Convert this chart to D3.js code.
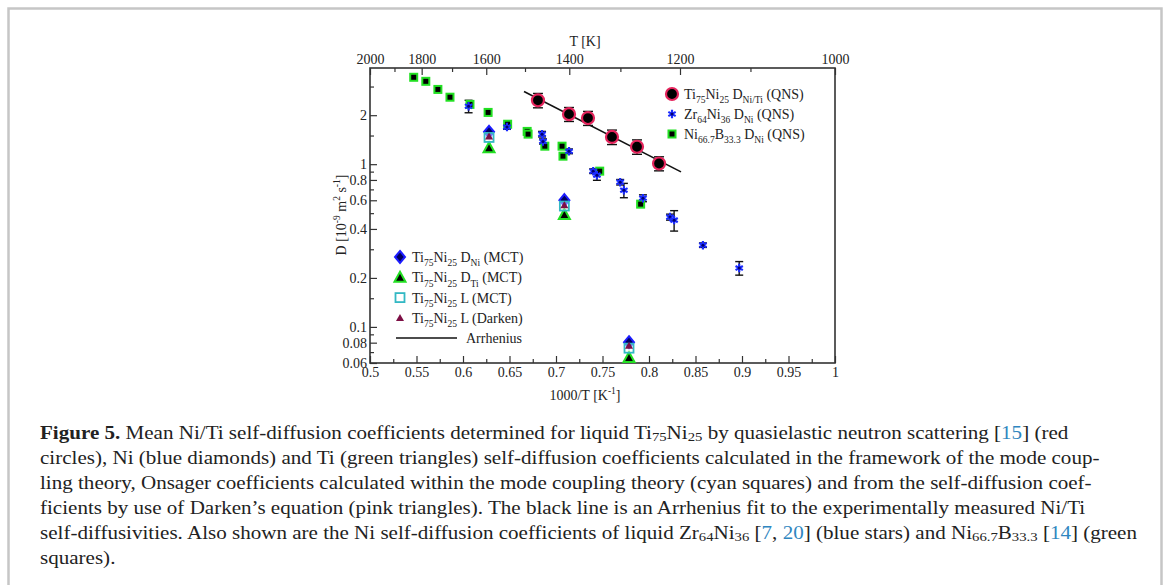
<!DOCTYPE html>
<html>
<head>
<meta charset="utf-8">
<script src="https://cdn.jsdelivr.net/npm/d3@7"></script>
<style>
  body { margin: 0; background: #fff; }
  text { font-family: "Liberation Serif", "Times New Roman", serif; fill: #222; }
</style>
</head>
<body>
<div id="roott"></div>
<script>
// ---- data ----
// Ni66.7B33.3 D_Ni (QNS), green squares
let nibX = [0.547, 0.560, 0.573, 0.586, 0.6075, 0.627, 0.648, 0.669, 0.670, 0.688, 0.7065, 0.7075, 0.747, 0.791];
let nibD = [3.42, 3.23, 2.88, 2.58, 2.33, 2.08, 1.76, 1.59, 1.53, 1.29, 1.29, 1.12, 0.906, 0.568];
let nibErr = [0.06, 0.05, 0.05, 0.04, 0.04, 0.03, 0.04, 0.03, 0.03, 0.03, 0.03, 0.03, 0.02, 0.02];

// Zr64Ni36 D_Ni (QNS), blue stars
let zrX = [0.606, 0.6473, 0.685, 0.686, 0.714, 0.740, 0.744, 0.769, 0.773, 0.7935, 0.8226, 0.827, 0.858, 0.897];
let zrD = [2.27, 1.69, 1.53, 1.38, 1.20, 0.906, 0.856, 0.775, 0.692, 0.618, 0.473, 0.453, 0.318, 0.230];
let zrErr = [0.2, 0.05, 0.06, 0.05, 0.04, 0.03, 0.06, 0.03, 0.07, 0.03, 0.02, 0.065, 0.01, 0.022];

// Ti75Ni25 D_Ni/Ti (QNS), red circles
let tiX = [0.6806, 0.714, 0.7344, 0.7602, 0.7871, 0.8108];
let tiD = [2.47, 2.03, 1.92, 1.47, 1.28, 1.01];
let tiErr = [0.25, 0.2, 0.19, 0.15, 0.13, 0.1];

// MCT results
let mctX = [0.628, 0.709, 0.7785];
let mctNi = [1.58, 0.601, 0.0805];
let mctTi = [1.26, 0.491, 0.0648];
let mctL = [1.46, 0.553, 0.074];
let darkenL = [1.48, 0.56, 0.0765];

// Arrhenius fit end points
let arrX = [0.6656, 0.8344];
let arrD = [2.80, 0.897];

// ticks
let xTicks = [0.5, 0.55, 0.6, 0.65, 0.7, 0.75, 0.8, 0.85, 0.9, 0.95, 1];
let xMinor = [0.525, 0.575, 0.625, 0.675, 0.725, 0.775, 0.825, 0.875, 0.925, 0.975];
let yTicks = [0.06, 0.08, 0.1, 0.2, 0.4, 0.6, 0.8, 1, 2];
let yMinor = [0.07, 0.09, 0.15, 0.3, 0.5, 0.7, 0.9, 1.5, 3];
let tTicks = [2000, 1800, 1600, 1400, 1200, 1000];
let tMinor = [1900, 1700, 1500, 1300, 1100];

// DIMENSIONS
let W = 1168, H = 585;
let pLeft = 370, pRight = 835, pTop = 68, pBottom = 363;

let svg = d3.select('#roott').append('svg')
  .attr('width', W).attr('height', H);

// outer frame
svg.append('rect')
  .attr('x', 8.5).attr('y', 8.5).attr('width', 1153).attr('height', 620)
  .attr('fill', 'none').attr('stroke', '#c6c6c6').attr('stroke-width', 2.5);

let xScale = d3.scaleLinear().domain([0.5, 1]).range([pLeft, pRight]);
let yScale = d3.scaleLog().domain([0.06, 3.9]).range([pBottom, pTop]);

// rich text helper: parts = [[text, mode]], mode '', 'sub', 'sup'
function rich(sel, parts, fs) {
  let off = 0;
  parts.forEach(([t, m]) => {
    let ts = sel.append('tspan').text(t);
    let d = 0;
    if (m === 'sub') { d = fs * 0.3; ts.attr('font-size', fs * 0.68); }
    if (m === 'sup') { d = -fs * 0.4; ts.attr('font-size', fs * 0.68); }
    if (d - off !== 0) ts.attr('dy', d - off);
    off = d;
  });
}

// axes
let axisCol = '#333';
let fmt = (v) => String(+v.toFixed(3));

svg.append('g').attr('transform', `translate(0,${pBottom})`)
  .call(d3.axisBottom(xScale).tickValues(xTicks).tickFormat(fmt).tickSizeInner(-7).tickSizeOuter(0).tickPadding(4));
svg.append('g').attr('transform', `translate(0,${pBottom})`)
  .call(d3.axisBottom(xScale).tickValues(xMinor).tickFormat('').tickSizeInner(-4).tickSizeOuter(0));

svg.append('g').attr('transform', `translate(${pLeft},0)`)
  .call(d3.axisLeft(yScale).tickValues(yTicks).tickFormat(fmt).tickSizeInner(-7).tickSizeOuter(0).tickPadding(3));
svg.append('g').attr('transform', `translate(${pLeft},0)`)
  .call(d3.axisLeft(yScale).tickValues(yMinor).tickFormat('').tickSizeInner(-4).tickSizeOuter(0));

svg.append('g').attr('transform', `translate(0,${pTop})`)
  .call(d3.axisTop(xScale)
    .tickValues(tTicks.map((T) => 1000 / T))
    .tickFormat((v) => String(Math.round(1000 / v)))
    .tickSizeInner(-7).tickSizeOuter(0).tickPadding(4));
svg.append('g').attr('transform', `translate(0,${pTop})`)
  .call(d3.axisTop(xScale).tickValues(tMinor.map((T) => 1000 / T)).tickFormat('').tickSizeInner(-4).tickSizeOuter(0));

svg.selectAll('.domain').remove();
svg.selectAll('.tick line').attr('stroke', axisCol).attr('stroke-width', 1.2);
svg.selectAll('.tick text')
  .style('font-family', '"Liberation Serif", serif').style('font-size', '14px').style('fill', '#222');

// plot box
svg.append('rect')
  .attr('x', pLeft).attr('y', pTop).attr('width', pRight - pLeft).attr('height', pBottom - pTop)
  .attr('fill', 'none').attr('stroke', axisCol).attr('stroke-width', 1.6);

// axis titles
svg.append('text').attr('x', 585).attr('y', 46).attr('text-anchor', 'middle')
  .style('font-size', '14px').text('T [K]');

let xl = svg.append('text').attr('x', 585).attr('y', 400).attr('text-anchor', 'middle').style('font-size', '14px');
rich(xl, [['1000/T [K'], ['-1', 'sup'], [']']], 14);

let yl = svg.append('text').attr('transform', 'translate(346,215) rotate(-90)')
  .attr('text-anchor', 'middle').style('font-size', '14px');
rich(yl, [['D [10'], ['-9', 'sup'], [' m'], ['2', 'sup'], [' s'], ['-1', 'sup'], [']']], 14);

// clip to plot area
svg.append('clipPath').attr('id', 'clip').append('rect')
  .attr('x', pLeft).attr('y', pTop - 10).attr('width', pRight - pLeft).attr('height', pBottom - pTop + 20);
let plot = svg.append('g').attr('clip-path', 'url(#clip)');

// Arrhenius line
let line = d3.line().x((d) => xScale(d[0])).y((d) => yScale(d[1]));
plot.append('path')
  .datum(arrX.map((x, i) => [x, arrD[i]]))
  .attr('fill', 'none').attr('stroke', '#111').attr('stroke-width', 1.6)
  .attr('d', line);

// error bars
function errBars(xs, ds, es, cap) {
  let g = plot.append('g').attr('stroke', '#111').attr('stroke-width', 1.4);
  xs.forEach((x, i) => {
    let cx = xScale(x), y1 = yScale(ds[i] - es[i]), y2 = yScale(ds[i] + es[i]);
    g.append('line').attr('x1', cx).attr('x2', cx).attr('y1', y1).attr('y2', y2);
    g.append('line').attr('x1', cx - cap).attr('x2', cx + cap).attr('y1', y1).attr('y2', y1);
    g.append('line').attr('x1', cx - cap).attr('x2', cx + cap).attr('y1', y2).attr('y2', y2);
  });
}

let green = '#22e022', blue = '#1a2bff', red = '#e5245c', cyan = '#33b8c4', maroon = '#7d0f45';

// marker drawers
function greenSquare(g, x, y) {
  g.append('rect').attr('x', x - 3.5).attr('y', y - 3.5).attr('width', 7).attr('height', 7)
    .attr('fill', '#000').attr('stroke', green).attr('stroke-width', 2);
}
function blueStar(g, x, y) {
  g.append('path').attr('d', d3.symbol(d3.symbolAsterisk, 50)())
    .attr('transform', `translate(${x},${y})`)
    .attr('stroke', blue).attr('stroke-width', 2.2).attr('fill', 'none');
  g.append('circle').attr('cx', x).attr('cy', y).attr('r', 1.5).attr('fill', '#000070');
}
function redCircle(g, x, y) {
  g.append('circle').attr('cx', x).attr('cy', y).attr('r', 6)
    .attr('fill', '#000').attr('stroke', red).attr('stroke-width', 2.2);
}
function diamond(g, x, y) {
  g.append('path').attr('d', `M${x},${y - 6}L${x + 5},${y}L${x},${y + 6}L${x - 5},${y}Z`)
    .attr('fill', '#000060').attr('stroke', '#1c1cff').attr('stroke-width', 2);
}
function greenTri(g, x, y) {
  g.append('path').attr('d', `M${x},${y - 5.5}L${x + 5.5},${y + 4.5}L${x - 5.5},${y + 4.5}Z`)
    .attr('fill', '#000').attr('stroke', green).attr('stroke-width', 2);
}
function cyanSquare(g, x, y) {
  g.append('rect').attr('x', x - 4.5).attr('y', y - 4.5).attr('width', 9).attr('height', 9)
    .attr('fill', '#fff').attr('fill-opacity', 0.4).attr('stroke', cyan).attr('stroke-width', 1.8);
}
function darkenTri(g, x, y) {
  g.append('path').attr('d', `M${x},${y - 4}L${x + 4},${y + 3}L${x - 4},${y + 3}Z`)
    .attr('fill', maroon);
}

errBars(nibX, nibD, nibErr, 3);
errBars(zrX, zrD, zrErr, 4);
errBars(tiX, tiD, tiErr, 5);

let mk = plot.append('g');
nibX.forEach((x, i) => greenSquare(mk, xScale(x), yScale(nibD[i])));
zrX.forEach((x, i) => blueStar(mk, xScale(x), yScale(zrD[i])));
tiX.forEach((x, i) => redCircle(mk, xScale(x), yScale(tiD[i])));
mctX.forEach((x, i) => {
  greenTri(mk, xScale(x), yScale(mctTi[i]));
  diamond(mk, xScale(x), yScale(mctNi[i]));
  cyanSquare(mk, xScale(x), yScale(mctL[i]));
  darkenTri(mk, xScale(x), yScale(darkenL[i]));
});

// legends
let lg = svg.append('g');
let fsL = 14;
let upper = [
  [redCircle, [['Ti'], ['75', 'sub'], ['Ni'], ['25', 'sub'], [' D'], ['Ni/Ti', 'sub'], [' (QNS)']]],
  [blueStar, [['Zr'], ['64', 'sub'], ['Ni'], ['36', 'sub'], [' D'], ['Ni', 'sub'], [' (QNS)']]],
  [greenSquare, [['Ni'], ['66.7', 'sub'], ['B'], ['33.3', 'sub'], [' D'], ['Ni', 'sub'], [' (QNS)']]]
];
upper.forEach(([fn, parts], i) => {
  let y = 94 + i * 20;
  fn(lg, 672, y);
  let t = lg.append('text').attr('x', 684).attr('y', y + 5).style('font-size', fsL + 'px');
  rich(t, parts, fsL);
});

let lower = [
  [diamond, [['Ti'], ['75', 'sub'], ['Ni'], ['25', 'sub'], [' D'], ['Ni', 'sub'], [' (MCT)']]],
  [greenTri, [['Ti'], ['75', 'sub'], ['Ni'], ['25', 'sub'], [' D'], ['Ti', 'sub'], [' (MCT)']]],
  [cyanSquare, [['Ti'], ['75', 'sub'], ['Ni'], ['25', 'sub'], [' L (MCT)']]],
  [darkenTri, [['Ti'], ['75', 'sub'], ['Ni'], ['25', 'sub'], [' L (Darken)']]]
];
lower.forEach(([fn, parts], i) => {
  let y = 257 + i * 20.3;
  fn(lg, 400, y);
  let t = lg.append('text').attr('x', 412).attr('y', y + 5).style('font-size', fsL + 'px');
  rich(t, parts, fsL);
});
lg.append('line').attr('x1', 396).attr('x2', 457).attr('y1', 338).attr('y2', 338)
  .attr('stroke', '#111').attr('stroke-width', 1.6);
lg.append('text').attr('x', 466).attr('y', 343).style('font-size', fsL + 'px').text('Arrhenius');

// caption
let capLines = [
  [['Figure 5.', 'b'], [' Mean Ni/Ti self-diffusion coefficients determined for liquid Ti'], ['75', 'sub'], ['Ni'], ['25', 'sub'],
   [' by quasielastic neutron scattering ['], ['15', 'link'], ['] (red']],
  [['circles), Ni (blue diamonds) and Ti (green triangles) self-diffusion coefficients calculated in the framework of the mode coup-']],
  [['ling theory, Onsager coefficients calculated within the mode coupling theory (cyan squares) and from the self-diffusion coef-']],
  [['ficients by use of Darken\u2019s equation (pink triangles). The black line is an Arrhenius fit to the experimentally measured Ni/Ti']],
  [['self-diffusivities. Also shown are the Ni self-diffusion coefficients of liquid Zr'], ['64', 'sub'], ['Ni'], ['36', 'sub'],
   [' ['], ['7', 'link'], [', '], ['20', 'link'], ['] (blue stars) and Ni'], ['66.7', 'sub'], ['B'], ['33.3', 'sub'],
   [' ['], ['14', 'link'], ['] (green']],
  [['squares).']]
];
let fsC = 18;
capLines.forEach((parts, i) => {
  // the original typeface runs wider than Liberation Serif, stretch horizontally
  let t = svg.append('text')
    .attr('transform', `translate(40,${439 + i * 25}) scale(1.17,1)`)
    .style('font-size', fsC + 'px');
  let off = 0;
  parts.forEach(([s, m]) => {
    let ts = t.append('tspan').text(s);
    let d = 0;
    if (m === 'sub') { d = fsC * 0.12; ts.attr('font-size', fsC * 0.7); }
    if (m === 'b') ts.attr('font-weight', 'bold');
    if (m === 'link') ts.style('fill', '#2f86c0');
    if (d - off !== 0) ts.attr('dy', d - off);
    off = d;
  });
});
</script>
</body>
</html>
